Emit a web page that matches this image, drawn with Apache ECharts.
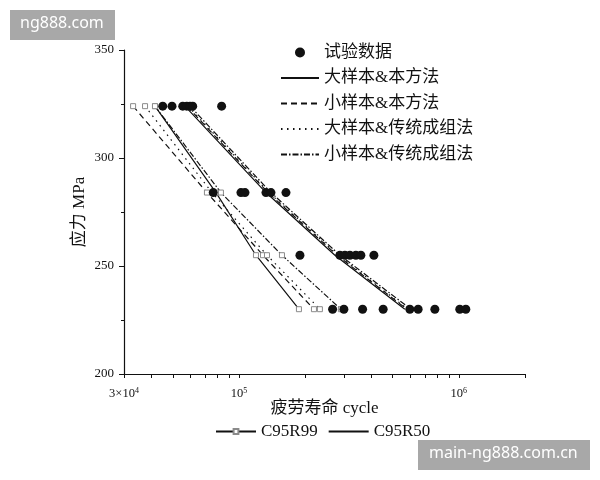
<!DOCTYPE html>
<html><head><meta charset="utf-8">
<script src="https://cdn.jsdelivr.net/npm/echarts@6/dist/echarts.min.js"></script>
<style>html,body{margin:0;padding:0;background:#fff}#c{width:600px;height:480px}</style>
</head><body><div id="c"></div>
<script>
// Stress levels (MPa)
const stressLevels = [324, 284, 255, 230];
// Test data: fatigue lives (cycles) at each stress level
const testN324 = [45000, 49600, 55500, 57900, 59900, 61600, 83400];
const testN284 = [76400, 102100, 106500, 132700, 139800, 163600];
const testN255 = [189400, 287800, 303300, 319600, 340200, 358500, 410900];
const testN230 = [266600, 300100, 365000, 452800, 598800, 653100, 778000, 1010000, 1076000];
// C95R99 curves (lives at each stress level)
const r99Large = [41500, 78600, 119500, 187400];
const r99Small = [33000, 71500, 128600, 219300];
const r99LargeTrad = [37400, 75400, 134100, 233400];
const r99SmallTrad = [41500, 82800, 156900, 290800];
// C95R50 curves
const r50Large = [56800, 132700, 273200, 568200];
const r50Small = [58000, 135500, 279000, 580100];
const r50LargeTrad = [58600, 136900, 281800, 586300];
const r50SmallTrad = [59900, 139800, 287800, 605200];
// Axis ticks
const xLabelValues = [30000, 100000, 1000000];
const xTickValues = [30000, 40000, 50000, 60000, 70000, 80000, 90000, 100000, 200000, 300000, 400000, 500000, 600000, 700000, 800000, 900000, 1000000, 2000000];
const methodNames = ['大样本&本方法', '小样本&本方法', '大样本&传统成组法', '小样本&传统成组法'];

const SERIF = "'Liberation Serif','Noto Sans CJK SC',serif";
const INK = '#111';
const CLEAR = 'rgba(0,0,0,0)';
const dashes = ['solid', [6, 4], [1.5, 4.5], [6, 2, 1.5, 2]];

function pts(arr) { return arr.map((n, i) => [n, stressLevels[i]]); }
const testData = [].concat(
  testN324.map(n => [n, stressLevels[0]]),
  testN284.map(n => [n, stressLevels[1]]),
  testN255.map(n => [n, stressLevels[2]]),
  testN230.map(n => [n, stressLevels[3]])
);
const r99 = [r99Large, r99Small, r99LargeTrad, r99SmallTrad];
const r50 = [r50Large, r50Small, r50LargeTrad, r50SmallTrad];

const series = [];
r50.forEach((arr, i) => series.push({
  name: 'r50-' + i, type: 'line', data: pts(arr), symbol: 'none', z: 2,
  lineStyle: { color: INK, width: 1.2, type: dashes[i] }, silent: true, animation: false
}));
r99.forEach((arr, i) => series.push({
  name: 'r99-' + i, type: 'line', data: pts(arr), symbol: 'rect', symbolSize: 5, showAllSymbol: true, z: 3,
  itemStyle: { color: '#fff', borderColor: '#8a8a8a', borderWidth: 1 },
  lineStyle: { color: INK, width: 1.2, type: dashes[i] }, silent: true, animation: false
}));
series.push({
  name: '试验数据', type: 'scatter', data: testData, symbol: 'circle', symbolSize: 9, z: 5,
  itemStyle: { color: INK, opacity: 1 }, silent: true, animation: false
});
methodNames.forEach((nm, i) => series.push({
  name: nm, type: 'line', data: [], symbol: 'none',
  itemStyle: { color: CLEAR, borderColor: CLEAR },
  lineStyle: { color: INK, width: 1.2, type: dashes[i] }, animation: false
}));
series.push({
  name: 'C95R99', type: 'line', data: [], symbol: 'rect', symbolSize: 5,
  itemStyle: { color: '#fff', borderColor: '#8a8a8a', borderWidth: 1 },
  lineStyle: { color: INK, width: 1.2 }, animation: false
});
series.push({
  name: 'C95R50', type: 'line', data: [], symbol: 'none',
  itemStyle: { color: CLEAR, borderColor: CLEAR },
  lineStyle: { color: INK, width: 1.2 }, animation: false
});

const chart = echarts.init(document.getElementById('c'), null, { renderer: 'canvas' });
chart.setOption({
  backgroundColor: '#fff',
  animation: false,
  grid: { left: 124, right: 75, top: 50, bottom: 106 },
  xAxis: {
    type: 'log', logBase: 10, min: 30000, max: 2000000,
    name: '疲劳寿命 cycle', nameLocation: 'middle', nameGap: 26, nameMoveOverlap: false,
    nameTextStyle: { fontFamily: SERIF, fontSize: 17, color: INK },
    axisLine: { lineStyle: { color: INK, width: 1.2 } },
    axisTick: { show: true, length: 4, inside: false, customValues: xTickValues, lineStyle: { color: INK, width: 1 } },
    axisLabel: {
      customValues: xLabelValues, margin: 13, fontFamily: SERIF, fontSize: 12.5, color: INK,
      formatter: function (v) {
        const e = Math.floor(Math.log10(v) + 1e-9);
        const m = Math.round(v / Math.pow(10, e));
        return (m === 1 ? '' : m + '×') + '10{s|' + e + '}';
      },
      rich: { s: { fontSize: 8, fontFamily: SERIF, color: INK, padding: [0, 0, 6, 0] } }
    },
    splitLine: { show: false }
  },
  yAxis: {
    type: 'value', min: 200, max: 350, interval: 50,
    name: '应力 MPa', nameLocation: 'middle', nameGap: 36, nameRotate: 90, nameMoveOverlap: false,
    nameTextStyle: { fontFamily: SERIF, fontSize: 17, color: INK },
    axisLine: { show: true, lineStyle: { color: INK, width: 1.2 } },
    axisTick: { show: true, length: 5, lineStyle: { color: INK, width: 1 } },
    minorTick: { show: true, splitNumber: 2, length: 3, lineStyle: { color: INK, width: 1 } },
    axisLabel: { fontFamily: SERIF, fontSize: 13, color: INK, margin: 10 },
    splitLine: { show: false }
  },
  legend: [{
    orient: 'vertical', left: 280, top: 44, padding: 0, itemWidth: 38, itemHeight: 10, itemGap: 8.5,
    selectedMode: false,
    data: ['试验数据'].concat(methodNames),
    textStyle: { fontFamily: SERIF, fontSize: 17, color: INK }
  }, {
    orient: 'horizontal', left: 215, top: 423, padding: 0, itemWidth: 40, itemHeight: 6, itemGap: 10,
    selectedMode: false,
    data: ['C95R99', 'C95R50'],
    textStyle: { fontFamily: SERIF, fontSize: 17, color: INK }
  }],
  graphic: [
    { type: 'rect', left: 10, top: 10, shape: { width: 105, height: 30 }, style: { fill: '#a8a8a8' }, z: 100 },
    { type: 'text', left: 20, top: 15, style: { text: 'ng888.com', fill: '#fff', font: "16px 'Noto Sans', sans-serif" }, z: 101 },
    { type: 'rect', left: 418, top: 440, shape: { width: 172, height: 30 }, style: { fill: '#a8a8a8' }, z: 100 },
    { type: 'text', left: 429, top: 445, style: { text: 'main-ng888.com.cn', fill: '#fff', font: "16px 'Noto Sans', sans-serif" }, z: 101 }
  ],
  series: series
});
</script>
</body></html>
